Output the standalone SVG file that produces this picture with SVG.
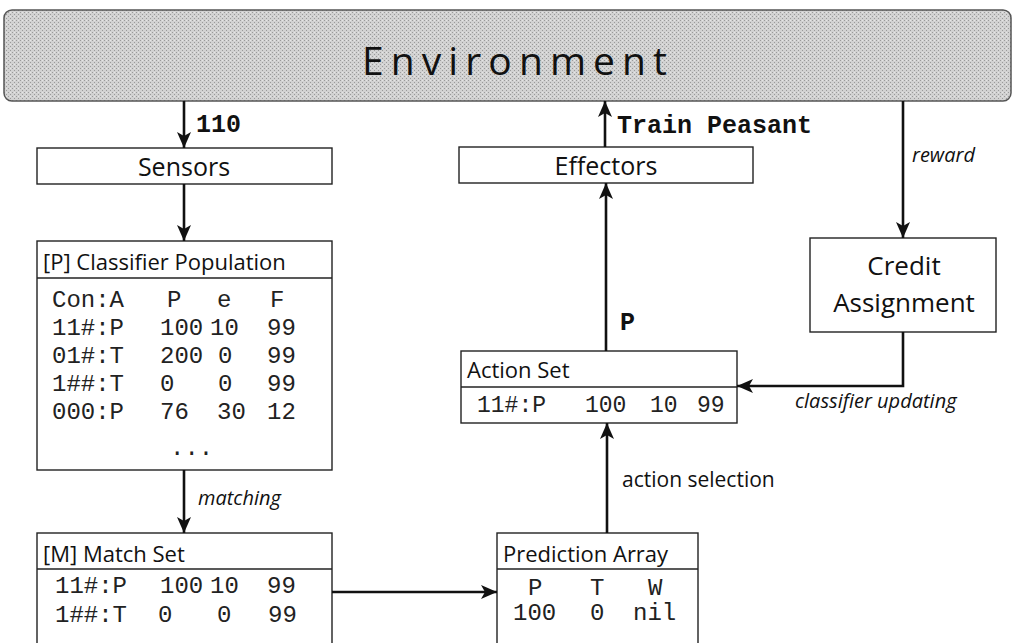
<svg xmlns="http://www.w3.org/2000/svg" width="1013" height="643" viewBox="0 0 1013 643">
<defs>
<marker id="ah" markerUnits="userSpaceOnUse" markerWidth="16" markerHeight="14" viewBox="0 0 16 14" refX="16" refY="7" orient="auto">
<path d="M0,0 L16,7 L0,14 L4,7 z" fill="#111"/>
</marker>
<pattern id="dither" width="4" height="4" patternUnits="userSpaceOnUse">
<rect width="4" height="4" fill="#d2d2d2"/>
<rect x="0" y="0" width="1" height="1" fill="#9a9a9a"/>
<rect x="2" y="2" width="1" height="1" fill="#9a9a9a"/>
<rect x="2" y="0" width="1" height="1" fill="#e6e6e6"/>
</pattern>
</defs>
<style>
.box{fill:#fff;stroke:#222;stroke-width:1.4}
.sep{stroke:#222;stroke-width:1.4}
.conn{fill:none;stroke:#111;stroke-width:2.6}
.sans{font-family:"Open Sans","Noto Sans","DejaVu Sans",sans-serif;fill:#111}
.mono{font-family:"Liberation Mono","Courier New",monospace;fill:#222;font-size:24px}
.bmono{font-family:"Liberation Mono","Courier New",monospace;font-weight:bold;fill:#111;font-size:25px}
.hdr{font-size:22px}
.big{font-size:25px}
.lbl{font-size:20px;font-style:italic}
</style>
<g id="environment">
<rect x="4" y="10" width="1007" height="91" rx="8" fill="url(#dither)" stroke="#555" stroke-width="1.5"/>
<text class="sans" x="362" y="75" font-size="39" textLength="305" lengthAdjust="spacing">Environment</text>
</g>
<g id="sensors">
<rect class="box" x="37" y="148" width="295" height="36"/>
<text class="sans big" x="184" y="176" text-anchor="middle">Sensors</text>
</g>
<g id="classifier-population">
<rect class="box" x="37" y="241" width="295" height="229"/>
<line class="sep" x1="37" y1="278" x2="332" y2="278"/>
<text class="sans hdr" x="43" y="270">[P] Classifier Population</text>
<g class="mono">
<text x="52" y="307">Con:A</text><text x="167" y="307">P</text><text x="217" y="307">e</text><text x="270" y="307">F</text>
<text x="52" y="335">11#:P</text><text x="160" y="335">100</text><text x="210" y="335">10</text><text x="267" y="335">99</text>
<text x="52" y="363">01#:T</text><text x="160" y="363">200</text><text x="218" y="363">0</text><text x="267" y="363">99</text>
<text x="52" y="391">1##:T</text><text x="160" y="391">0</text><text x="218" y="391">0</text><text x="267" y="391">99</text>
<text x="52" y="419">000:P</text><text x="160" y="419">76</text><text x="217" y="419">30</text><text x="267" y="419">12</text>
<text x="170" y="455">...</text>
</g>
</g>
<g id="match-set">
<rect class="box" x="37" y="533" width="295" height="120"/>
<line class="sep" x1="37" y1="569" x2="332" y2="569"/>
<text class="sans hdr" x="43" y="562">[M] Match Set</text>
<g class="mono">
<text x="55" y="593">11#:P</text><text x="160" y="593">100</text><text x="210" y="593">10</text><text x="267" y="593">99</text>
<text x="55" y="622">1##:T</text><text x="158" y="622">0</text><text x="217" y="622">0</text><text x="268" y="622">99</text>
</g>
</g>
<g id="prediction-array">
<rect class="box" x="497" y="533" width="201" height="120"/>
<line class="sep" x1="497" y1="569" x2="698" y2="569"/>
<text class="sans hdr" x="503" y="562">Prediction Array</text>
<g class="mono">
<text x="528" y="595">P</text><text x="590" y="595">T</text><text x="648" y="595">W</text>
<text x="513" y="620">100</text><text x="590" y="620">0</text><text x="633" y="620">nil</text>
</g>
</g>
<g id="action-set">
<rect class="box" x="461" y="351" width="276" height="72"/>
<line class="sep" x1="461" y1="387" x2="737" y2="387"/>
<text class="sans hdr" x="467" y="378">Action Set</text>
<g class="mono" style="font-size:23px">
<text x="477" y="412">11#:P</text><text x="585" y="412">100</text><text x="650" y="412">10</text><text x="697" y="412">99</text>
</g>
</g>
<g id="effectors">
<rect class="box" x="459" y="147" width="294" height="36"/>
<text class="sans big" x="606" y="175" text-anchor="middle">Effectors</text>
</g>
<g id="credit-assignment">
<rect class="box" x="810" y="238" width="186" height="94"/>
<text class="sans" x="904" y="275" font-size="26" text-anchor="middle">Credit</text>
<text class="sans" x="904" y="312" font-size="26" text-anchor="middle">Assignment</text>
</g>
<g id="connectors">
<line class="conn" x1="184" y1="101" x2="184" y2="148" marker-end="url(#ah)"/>
<line class="conn" x1="184" y1="184" x2="184" y2="241" marker-end="url(#ah)"/>
<line class="conn" x1="184" y1="470" x2="184" y2="533" marker-end="url(#ah)"/>
<line class="conn" x1="332" y1="592" x2="497" y2="592" marker-end="url(#ah)"/>
<line class="conn" x1="607" y1="533" x2="607" y2="423" marker-end="url(#ah)"/>
<line class="conn" x1="606" y1="351" x2="606" y2="183" marker-end="url(#ah)"/>
<line class="conn" x1="605" y1="147" x2="605" y2="101" marker-end="url(#ah)"/>
<line class="conn" x1="903" y1="101" x2="903" y2="238" marker-end="url(#ah)"/>
<polyline class="conn" points="903,332 903,386 737,386" marker-end="url(#ah)"/>
<text class="bmono" x="196" y="132">110</text>
<text class="bmono" x="617" y="133">Train Peasant</text>
<text class="bmono" x="620" y="330">P</text>
<text class="sans lbl" x="198" y="505">matching</text>
<text class="sans" x="622" y="487" font-size="21">action selection</text>
<text class="sans lbl" x="912" y="162">reward</text>
<text class="sans lbl" x="795" y="408">classifier updating</text>
</g>
</svg>
